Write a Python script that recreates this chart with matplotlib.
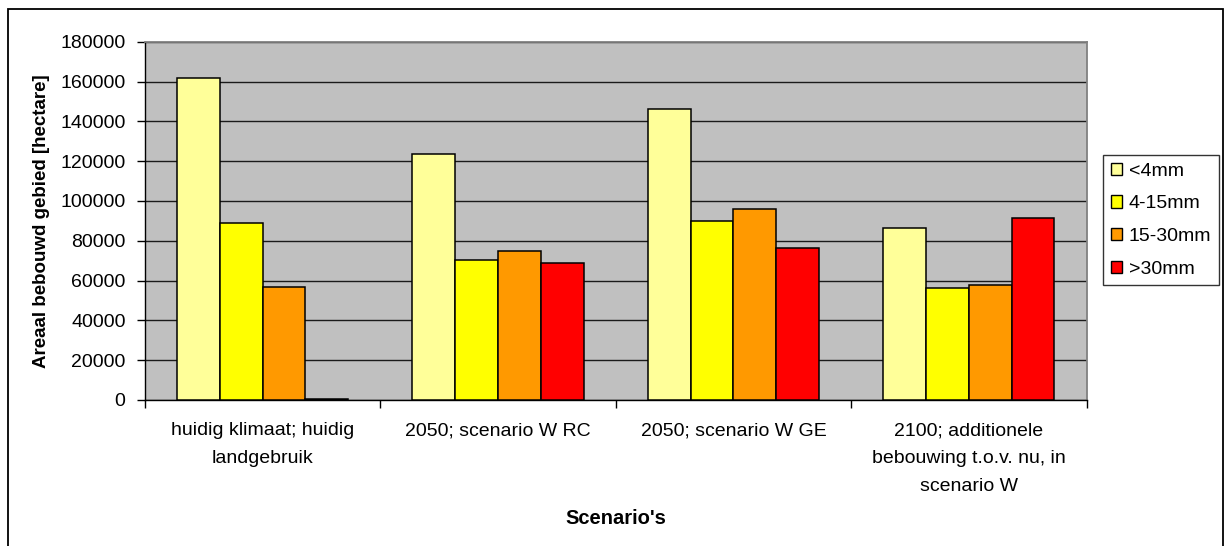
import matplotlib
matplotlib.use("Agg")
import matplotlib.pyplot as plt
from matplotlib.patches import Rectangle
import numpy as np

plt.rcParams['font.family'] = ['Liberation Sans', 'DejaVu Sans']

categories = [
    "huidig klimaat; huidig\nlandgebruik",
    "2050; scenario W RC",
    "2050; scenario W GE",
    "2100; additionele\nbebouwing t.o.v. nu, in\nscenario W",
]
series_names = ["<4mm", "4-15mm", "15-30mm", ">30mm"]
lt4 = [161600, 123400, 146200, 86600]
r4_15 = [89000, 70300, 89800, 56100]
r15_30 = [56900, 75000, 96000, 57600]
gt30 = [700, 68700, 76500, 91300]
series_colors = ["#FFFF99", "#FFFF00", "#FF9900", "#FF0000"]
y_ticks = [0, 20000, 40000, 60000, 80000, 100000, 120000, 140000, 160000, 180000]

W, H = 1230, 546
fig = plt.figure(figsize=(W / 100, H / 100), dpi=100)
fig.patch.set_facecolor("white")

left, right, top, bottom = 145, 1086.5, 41.7, 400
ax = fig.add_axes([left / W, 1 - bottom / H, (right - left) / W, (bottom - top) / H])
ax.set_facecolor("#C0C0C0")

FS = 14
x = np.arange(len(categories))
bw = 1 / 5.5
all_series = [lt4, r4_15, r15_30, gt30]
for i, (vals, name, col) in enumerate(zip(all_series, series_names, series_colors)):
    ax.bar(x + (i - 1.5) * bw, vals, bw, color=col, edgecolor="black",
           linewidth=1.1, label=name, zorder=3)

ax.set_xlim(-0.5, len(categories) - 0.5)
ax.set_ylim(0, 180000)
ax.set_yticks(y_ticks)
ax.set_yticklabels([str(v) for v in y_ticks], fontsize=FS)
ax.yaxis.grid(True, color="#1a1a1a", linewidth=1.0, zorder=1)
ax.set_axisbelow(True)

ax.set_xticks(x)
ax.set_xticklabels(categories, fontsize=FS, linespacing=1.85)
ax.set_xticks(np.arange(-0.5, len(categories)), minor=True)
ax.tick_params(axis="x", which="major", length=0, pad=16)
ax.tick_params(axis="x", which="minor", length=6, width=1.0, color="black")
ax.tick_params(axis="y", length=6, width=1.0, color="black", pad=8)

for s in ("top", "right"):
    ax.spines[s].set_color("#808080")
    ax.spines[s].set_linewidth(1.3)
for s in ("left", "bottom"):
    ax.spines[s].set_color("black")
    ax.spines[s].set_linewidth(1.0)

fig.text(41.7 / W, 1 - 221 / H, "Areaal bebouwd gebied [hectare]", rotation=90,
         ha="center", va="center", fontsize=13.5, fontweight="bold")
fig.text(616 / W, 1 - 518 / H, "Scenario's", ha="center", va="center",
         fontsize=14.5, fontweight="bold")

leg = ax.legend(loc="upper left", bbox_to_anchor=(1103 / W, 1 - 155 / H),
                bbox_transform=fig.transFigure, borderaxespad=0, fontsize=FS,
                frameon=True, fancybox=False, handlelength=0.6, handleheight=0.6,
                handletextpad=0.32, labelspacing=0.8, borderpad=0.4)
leg.get_frame().set_edgecolor("black")
leg.get_frame().set_linewidth(1.0)
for h in leg.legend_handles:
    h.set_linewidth(1.0)

fig.add_artist(Rectangle((8 / W, -0.1), (1222.7 - 8) / W, (H - 9) / H + 0.1,
                         transform=fig.transFigure, fill=False,
                         edgecolor="black", linewidth=1.3, clip_on=False))

fig.savefig("out.png", dpi=100)
